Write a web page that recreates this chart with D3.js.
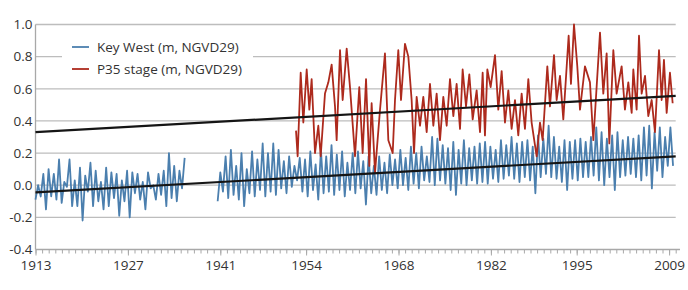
<!DOCTYPE html>
<html>
<head>
<meta charset="utf-8">
<script src="https://cdn.jsdelivr.net/npm/d3@7"></script>
<style>
  html, body { margin: 0; padding: 0; background: #fff; }
  svg { display: block; }
  text { font-family: "Open Sans", "Noto Sans", sans-serif; fill: #333; }
</style>
</head>
<body>
<svg id="chart" width="688" height="290"></svg>
<script>
// ---------------- data ----------------
const xTickYears = [1913, 1927, 1941, 1954, 1968, 1982, 1995, 2009];
const yTickValues = [-0.4, -0.2, 0.0, 0.2, 0.4, 0.6, 0.8, 1.0];
const seriesNames = ["Key West (m, NGVD29)", "P35 stage (m, NGVD29)"];

// Key West monthly mean sea level, segment 1 (alternating trough / peak)
const kwSeg1Span = [1913.0, 1935.6];
const kwSeg1Values = [
  -0.09, 0.00, -0.07, 0.07, -0.15, 0.10, -0.07, 0.07, -0.09, 0.16,
  -0.11, 0.02, -0.01, 0.16, -0.13, 0.03, -0.13, 0.11, -0.22, 0.06,
  -0.04, 0.14, -0.13, 0.09, -0.10, 0.02, -0.15, 0.11, -0.13, 0.08,
  -0.08, 0.07, -0.19, 0.03, -0.10, 0.09, -0.20, 0.08, -0.05, 0.07,
  -0.09, 0.02, -0.15, 0.08, -0.02, 0.00, -0.09, 0.07, -0.06, 0.09,
  -0.13, 0.20, -0.08, 0.12, -0.10, 0.09, -0.02, 0.17
];
// Key West segment 2
const kwSeg2Span = [1940.6, 2009.6];
const kwSeg2Values = [
  -0.10, 0.08, -0.04, 0.18, -0.08, 0.22, -0.06, 0.12, -0.09, 0.20,
  -0.13, 0.10, -0.05, 0.21, -0.07, 0.16, -0.03, 0.26, -0.07, 0.20,
  -0.04, 0.26, -0.06, 0.22, -0.02, 0.15, -0.05, 0.18, -0.01, 0.12,
   0.03, 0.17, -0.04, 0.16, -0.07, 0.21, -0.03, 0.13, -0.09, 0.22,
  -0.05, 0.18, -0.04, 0.25, -0.06, 0.19, -0.03, 0.21, -0.07, 0.14,
  -0.03, 0.20, -0.05, 0.21, -0.02, 0.15, -0.12, 0.18, -0.05, 0.12,
  -0.06, 0.18, -0.03, 0.14, -0.05, 0.19, 0.00, 0.16, -0.02, 0.22,
   0.00, 0.17, -0.03, 0.24, 0.01, 0.20, -0.02, 0.24, 0.03, 0.18,
   0.02, 0.30, 0.00, 0.29, 0.03, 0.25, 0.01, 0.23, -0.03, 0.27,
  -0.06, 0.22, 0.01, 0.28, 0.00, 0.23, 0.03, 0.24, 0.01, 0.26,
   0.02, 0.27, 0.01, 0.24, 0.04, 0.22, 0.02, 0.28, 0.04, 0.25,
   0.06, 0.30, 0.04, 0.26, 0.02, 0.27, 0.05, 0.28, 0.03, 0.24,
  -0.05, 0.31, 0.05, 0.29, 0.07, 0.37, 0.05, 0.30, 0.04, 0.24,
   0.02, 0.28, -0.03, 0.27, 0.04, 0.28, 0.03, 0.29, 0.05, 0.27,
   0.05, 0.30, 0.06, 0.36, 0.03, 0.33, 0.00, 0.29, 0.05, 0.31,
  -0.03, 0.33, 0.05, 0.28, 0.06, 0.30, 0.07, 0.29, 0.05, 0.31,
   0.03, 0.36, 0.06, 0.37, -0.02, 0.33, 0.09, 0.36, 0.05, 0.30,
   0.12, 0.36, 0.12
];

// P35 stage (decimal year, value)
const p35Years = [
  1952.47, 1952.72, 1953.18, 1953.58, 1954.09, 1954.49, 1954.84, 1955.35, 1955.85, 1956.21,
  1956.86, 1957.37, 1957.87, 1958.38, 1958.63, 1959.14, 1959.54, 1960.15, 1960.65, 1961.41,
  1962.06, 1962.57, 1963.08, 1963.58, 1963.93, 1964.44, 1965.20, 1965.95, 1966.46, 1967.12,
  1967.47, 1967.97, 1968.38, 1968.98, 1969.49, 1969.99, 1970.35, 1970.75, 1971.26, 1971.76,
  1972.27, 1972.77, 1973.28, 1973.78, 1974.29, 1974.79, 1975.30, 1975.80, 1976.31, 1976.81,
  1977.32, 1977.72, 1978.23, 1978.73, 1979.24, 1979.84, 1980.35, 1980.75, 1981.10, 1981.46,
  1981.96, 1982.62, 1983.12, 1983.63, 1984.13, 1984.64, 1985.14, 1985.65, 1986.15, 1986.66,
  1987.16, 1987.67, 1988.17, 1988.93, 1989.44, 1989.84, 1990.55, 1990.95, 1991.56, 1991.96,
  1992.47, 1992.97, 1993.78, 1994.13, 1994.59, 1995.09, 1995.50, 1996.25, 1997.01, 1997.52,
  1998.53, 1999.03, 1999.54, 1999.94, 2000.55, 2001.05, 2001.81, 2002.31, 2002.82, 2003.33,
  2003.58, 2004.08, 2004.44, 2004.84, 2005.35, 2005.85, 2006.36, 2006.86, 2007.47, 2007.87,
  2008.22, 2008.63, 2009.13, 2009.54
];
const p35Values = [
  0.34, 0.18, 0.70, 0.39, 0.72, 0.47, 0.66, 0.20, 0.37, 0.18,
  0.57, 0.64, 0.75, 0.49, 0.28, 0.84, 0.53, 0.85, 0.61, 0.18,
  0.61, 0.20, 0.66, 0.12, 0.51, 0.08, 0.47, 0.82, 0.28, 0.20,
  0.53, 0.84, 0.53, 0.88, 0.80, 0.53, 0.20, 0.55, 0.37, 0.55,
  0.33, 0.63, 0.37, 0.57, 0.28, 0.55, 0.37, 0.66, 0.43, 0.63,
  0.35, 0.72, 0.49, 0.69, 0.41, 0.59, 0.33, 0.70, 0.31, 0.72,
  0.61, 0.81, 0.47, 0.71, 0.39, 0.59, 0.35, 0.53, 0.31, 0.57,
  0.35, 0.66, 0.39, 0.18, 0.39, 0.28, 0.74, 0.49, 0.81, 0.53,
  0.68, 0.41, 0.93, 0.63, 1.00, 0.74, 0.47, 0.74, 0.64, 0.28,
  0.95, 0.57, 0.82, 0.26, 0.84, 0.57, 0.74, 0.47, 0.64, 0.45,
  0.72, 0.47, 0.93, 0.57, 0.68, 0.43, 0.53, 0.33, 0.84, 0.53,
  0.78, 0.45, 0.70, 0.51
];

// linear trends (endpoints)
const trendYears = [1913, 2010];
const trendP35 = [0.33, 0.556];
const trendKW = [-0.045, 0.18];

// ---------------- drawing ----------------
const svg = d3.select("#chart");
const x = d3.scaleLinear().domain([1913, 2010]).range([35.5, 675.7]);
const y = d3.scaleLinear().domain([-0.4, 1.0]).range([249.5, 24.5]);

function seg(span, vals) {
  const step = (span[1] - span[0]) / (vals.length - 1);
  return vals.map((v, i) => ({ year: span[0] + i * step, value: v }));
}
const kw1 = seg(kwSeg1Span, kwSeg1Values);
const kw2 = seg(kwSeg2Span, kwSeg2Values);
const p35 = p35Years.map((yr, i) => ({ year: yr, value: p35Values[i] }));

const line = d3.line().x(d => x(d.year)).y(d => y(d.value));

// gridlines
svg.append("g").selectAll("line")
  .data(yTickValues.filter(v => v > -0.4))
  .join("line")
  .attr("x1", x(1913)).attr("x2", x(2010))
  .attr("y1", d => y(d)).attr("y2", d => y(d))
  .attr("stroke", "#bdbdbd").attr("stroke-width", 1.3);

// y axis
const yAxis = d3.axisLeft(y).tickValues(yTickValues).tickSize(0).tickPadding(3)
  .tickFormat(d => d.toFixed(1));
const gy = svg.append("g").attr("transform", `translate(${x(1913)},0)`).call(yAxis);
gy.select(".domain").remove();
gy.selectAll("text").style("font-size", "13.5px").attr("fill", "#333");
svg.append("line")
  .attr("x1", x(1913)).attr("x2", x(1913))
  .attr("y1", y(1.0)).attr("y2", y(-0.4))
  .attr("stroke", "#a8a8a8").attr("stroke-width", 1.3);

// x axis
const gxMinor = svg.append("g").attr("transform", `translate(0,${y(-0.4)})`)
  .call(d3.axisBottom(x).tickValues(d3.range(1913, 2011)).tickSize(4).tickFormat(""));
gxMinor.select(".domain").remove();
gxMinor.selectAll("line").attr("stroke", "#a8a8a8");
const gx = svg.append("g").attr("transform", `translate(0,${y(-0.4)})`)
  .call(d3.axisBottom(x).tickValues(xTickYears).tickSize(6).tickPadding(5).tickFormat(d => String(d)));
gx.select(".domain").remove();
gx.selectAll("line").attr("stroke", "#a8a8a8");
gx.selectAll("text").style("font-size", "13.5px").attr("fill", "#333");
svg.append("line")
  .attr("x1", x(1913)).attr("x2", x(2010.65))
  .attr("y1", y(-0.4)).attr("y2", y(-0.4))
  .attr("stroke", "#a8a8a8").attr("stroke-width", 1.3);

// series
const colors = ["#4b7fae", "#ad2a1d"];
[kw1, kw2].forEach(s => {
  svg.append("path").datum(s).attr("d", line)
    .attr("fill", "none").attr("stroke", colors[0]).attr("stroke-width", 1.8)
    .attr("stroke-linejoin", "round");
});
svg.append("path").datum(p35).attr("d", line)
  .attr("fill", "none").attr("stroke", colors[1]).attr("stroke-width", 1.8)
  .attr("stroke-linejoin", "round");

// trend lines
[trendP35, trendKW].forEach(t => {
  svg.append("path").datum(trendYears.map((yr, i) => ({ year: yr, value: t[i] })))
    .attr("d", line).attr("fill", "none").attr("stroke", "#151515").attr("stroke-width", 2.2);
});

// legend
const lg = svg.append("g");
lg.append("rect").attr("x", 62).attr("y", 36).attr("width", 191).attr("height", 43).attr("fill", "#fff");
seriesNames.forEach((name, i) => {
  const yy = 47 + i * 22;
  lg.append("line").attr("x1", 72).attr("x2", 89).attr("y1", yy).attr("y2", yy)
    .attr("stroke", colors[i]).attr("stroke-width", 1.8);
  lg.append("text").attr("x", 97).attr("y", yy).attr("dy", "0.35em")
    .style("font-size", "13.5px").text(name);
});
</script>
</body>
</html>
